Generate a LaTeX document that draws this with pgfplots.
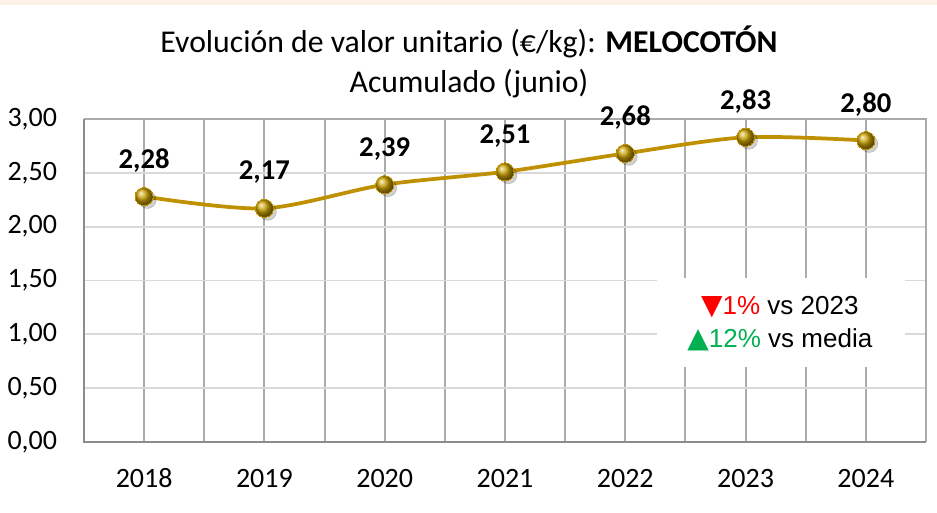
\documentclass[border=0pt]{standalone}
\usepackage{pgfplots}
\pgfplotsset{compat=1.18}
\usepackage{fontspec}
\setmainfont{Carlito}
\newfontfamily\arialf{Liberation Sans}
\newfontfamily\dejavu{DejaVu Sans}
\definecolor{gold}{HTML}{BF9000}
\definecolor{ballc}{HTML}{C9A000}
\definecolor{band}{HTML}{FBF1E7}
\definecolor{vgrid}{HTML}{ABABAB}
\definecolor{hgrid}{HTML}{D9D9D9}
\definecolor{redv}{HTML}{FF0000}
\definecolor{greenv}{HTML}{00B050}
\begin{document}
\begin{tikzpicture}
\fill[white] (0,0) rectangle (702.75pt,384.75pt);
\fill[band] (0,381pt) rectangle (702.75pt,384.75pt);
\node[anchor=base, font=\fontsize{23.8}{27}\selectfont] at (351.75pt,345pt) {Evolución de valor unitario (€/kg): \textbf{MELOCOTÓN}};
\node[anchor=base, font=\fontsize{23.8}{27}\selectfont] at (351.75pt,315pt) {Acumulado (junio)};
\begin{axis}[
  at={(63pt,53.25pt)}, anchor=south west,
  scale only axis, width=631.5pt, height=242.25pt,
  xmin=-0.5, xmax=6.5, ymin=0, ymax=3,
  xtick={0,...,6}, xticklabels={2018,2019,2020,2021,2022,2023,2024},
  minor x tick num=1,
  ytick={0,0.5,...,3},
  major tick length=0pt, minor tick length=0pt,
  xmajorgrids, xminorgrids, ymajorgrids,
  x grid style={vgrid, line width=1.4pt},
  minor x grid style={vgrid, line width=1.4pt},
  y grid style={hgrid, line width=1.4pt},
  axis line style={draw=none},
  /pgf/number format/assume math mode=true,
  yticklabel={\pgfmathprintnumber[fixed, fixed zerofill, precision=2, use comma]{\tick}},
  tick label style={font=\fontsize{21}{25}\selectfont},
  yticklabel style={anchor=east, inner sep=0pt, xshift=-20pt},
  xticklabel style={anchor=base, inner sep=0pt, yshift=-34pt},
  clip=false,
]
\draw[vgrid, line width=1.4pt] (axis cs:-0.5,3) -- (axis cs:6.5,3) -- (axis cs:6.5,0);
\draw[gray!90, line width=2pt] (axis cs:-0.5,3) -- (axis cs:-0.5,0) -- (axis cs:6.5,0);
\fill[white] (axis cs:4.263,0.697) rectangle (axis cs:6.324,1.523);
\node[font=\arialf\fontsize{19.5}{23}\selectfont] at (axis cs:5.285,1.254) {\textcolor{redv}{{\dejavu\fontsize{21}{23}\selectfont ▼}1\%} vs 2023};
\node[font=\arialf\fontsize{19.5}{23}\selectfont] at (axis cs:5.285,0.947) {\textcolor{greenv}{{\dejavu\fontsize{21}{23}\selectfont ▲}12\%} vs media};
\addplot[only marks, mark=*, mark size=6.5pt, mark options={fill=black, draw=none, opacity=0.18, xshift=2.5pt, yshift=-2.5pt}] coordinates {(0,2.28) (1,2.17) (2,2.39) (3,2.51) (4,2.68) (5,2.83) (6,2.80)};
\addplot[gold, line width=2.8pt, smooth, tension=0.5, mark=ball, mark size=6.8pt, mark options={ball color=ballc, line width=0pt},
  nodes near coords={\pgfmathprintnumber[fixed, fixed zerofill, precision=2, use comma]{\pgfplotspointmeta}},
  every node near coord/.append style={anchor=center, yshift=27pt, text=black, font=\bfseries\fontsize{21.5}{25}\selectfont, /pgf/number format/assume math mode=true}]
 coordinates {(0,2.28) (1,2.17) (2,2.39) (3,2.51) (4,2.68) (5,2.83) (6,2.80)};
\end{axis}
\end{tikzpicture}
\end{document}
